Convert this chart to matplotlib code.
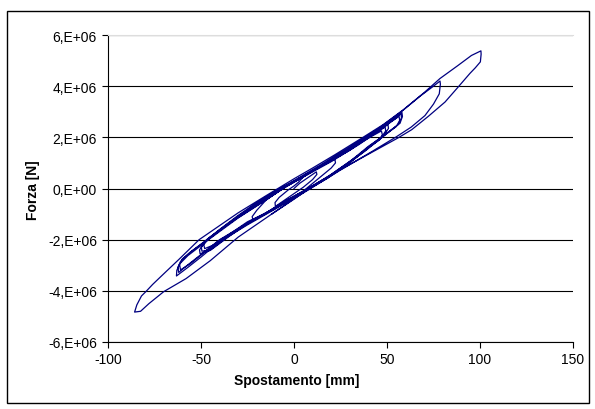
import matplotlib
matplotlib.use("Agg")
import matplotlib.pyplot as plt
from matplotlib.patches import Rectangle
from matplotlib.ticker import FuncFormatter
import numpy as np

plt.rcParams['font.family'] = ['Liberation Sans', 'DejaVu Sans']
plt.rcParams['axes.unicode_minus'] = False

# Spostamento [mm] / Forza [MN], one list per group of cycles
spost_piccoli = [0, 3, 8, 12, 12.3, 10, 5, 0, -5, -10, -10.2, -8, -3, 0, 2.5, 5, 10, 15, 22,
                 22.3, 20, 15, 5, -5, -15, -22, -22.5, -20, -15, -5, 5, 15]
forza_piccoli = [0.0, 0.2, 0.45, 0.65, 0.55, 0.35, 0.05, -0.2, -0.45, -0.7, -0.55, -0.35, -0.05, 0.1, 0.25,
                 0.45, 0.7, 0.9, 1.15, 1.0, 0.8, 0.5, -0.1, -0.5, -0.95, -1.25, -1.1, -0.85, -0.45, 0.05, 0.45, 0.9]

spost_48 = [25, 35, 42, 47,
            47.5, 46, 40, 30, 18, 5, -5, -15, -25, -35, -43, -48,
            -48.5, -46, -40, -30, -20, -10, 0, 10, 20, 30, 40, 49,
            49.3, 47, 40, 30, 18, 5, -5, -15, -25, -35, -45, -49.5,
            -49.8, -47, -40, -30, -20, -10, 0, 10, 20, 30, 40, 50.5,
            50.8, 48.5, 40, 30, 18, 5, -5, -15, -25, -35, -45, -50.5]
forza_48 = [1.3, 1.75, 2.05, 2.25,
            2.1, 1.9, 1.6, 1.0, 0.4, -0.15, -0.55, -0.95, -1.3, -1.8, -2.2, -2.35,
            -2.2, -1.95, -1.6, -1.05, -0.55, -0.1, 0.3, 0.7, 1.1, 1.5, 2.0, 2.4,
            2.25, 2.0, 1.65, 1.05, 0.45, -0.1, -0.5, -0.95, -1.35, -1.85, -2.4, -2.45,
            -2.3, -2.0, -1.62, -1.08, -0.58, -0.12, 0.28, 0.68, 1.08, 1.5, 2.02, 2.5,
            2.35, 2.1, 1.62, 1.02, 0.42, -0.12, -0.52, -0.97, -1.38, -1.88, -2.42, -2.55]

spost_58 = [-50.8, -48, -40, -25, -10, 5, 20, 35, 48, 55, 58,
            58.3, 57, 52, 45, 35, 20, 5, -10, -25, -40, -50, -56, -61,
            -61.5, -60, -55, -45, -35, -20, -5, 10, 25, 40, 50, 56.5,
            56.8, 55, 48, 35, 20, 5, -10, -25, -40, -50, -57, -62,
            -62.4, -61, -56, -45, -35, -20, -5, 10, 25, 40, 50, 57.5,
            57.8, 56, 50, 38, 22, 5, -10, -25, -40, -50, -57, -63.2]
forza_58 = [-2.4, -2.1, -1.65, -0.85, -0.15, 0.45, 1.05, 1.72, 2.38, 2.75, 2.98,
            2.82, 2.55, 2.28, 1.88, 1.3, 0.52, -0.15, -0.78, -1.38, -2.02, -2.6, -2.95, -3.18,
            -2.98, -2.75, -2.45, -1.9, -1.35, -0.65, 0.05, 0.7, 1.35, 2.05, 2.52, 2.82,
            2.66, 2.42, 2.05, 1.32, 0.55, -0.12, -0.75, -1.35, -2.0, -2.58, -2.98, -3.28,
            -3.08, -2.85, -2.5, -1.92, -1.37, -0.67, 0.03, 0.68, 1.33, 2.03, 2.55, 2.92,
            2.76, 2.5, 2.15, 1.45, 0.62, -0.15, -0.8, -1.42, -2.08, -2.68, -3.08, -3.42]

spost_grandi = [-63, -61.5, -57, -45, -30, -15, 0, 15, 30, 45, 58, 68, 75, 78.5,
                78.7, 78.1, 75, 70.4, 63, 55, 42, 25, 10, 0, -15, -30, -45, -58, -70, -78, -82.5, -85.7,
                -84.5, -82, -79.5, -76, -71.7, -62, -51, -40, -30, -15, 0, 10, 22, 36, 48, 58.8, 70, 78.5,
                88, 95.4, 100.5,
                100.6, 100.2, 97.5, 94.6, 88.3, 81.2, 72.2, 63.3, 56, 42, 24, 10, 0, -12]
forza_grandi = [-3.2, -2.95, -2.62, -1.95, -1.15, -0.45, 0.3, 0.95, 1.62, 2.32, 3.02, 3.62, 4.0, 4.2,
                4.08, 3.7, 3.3, 2.85, 2.4, 2.02, 1.45, 0.72, 0.05, -0.4, -1.15, -1.9, -2.82, -3.52, -4.03, -4.5,
                -4.8, -4.83,
                -4.55, -4.2, -4.02, -3.75, -3.45, -2.78, -2.0, -1.45, -0.95, -0.28, 0.38, 0.8, 1.32, 1.95, 2.5,
                3.08, 3.75, 4.3, 4.8, 5.2, 5.38,
                5.25, 4.95, 4.72, 4.5, 3.97, 3.38, 2.82, 2.3, 1.98, 1.42, 0.7, 0.1, -0.42, -1.0]

spost = np.concatenate([spost_piccoli, spost_48, spost_58, spost_grandi])
forza = np.concatenate([forza_piccoli, forza_48, forza_58, forza_grandi]) * 1e6


def etichetta_forza(v, pos):
  if abs(v) < 1:
    return '0,E+00'
  return '%d,E+06' % round(v / 1e6)


fig = plt.figure(figsize=(5.95, 4.10), dpi=100)
ax = fig.add_axes([108 / 595, 1 - 343 / 410, (573 - 108) / 595, (343 - 36) / 410])

ax.plot(spost, forza, color='#000080', lw=0.9)

ax.set_xlim(-100, 150)
ax.set_ylim(-6e6, 6e6)
ax.set_xticks(range(-100, 151, 50))
ax.set_yticks(np.arange(-6e6, 6.1e6, 2e6))
ax.yaxis.set_major_formatter(FuncFormatter(etichetta_forza))
ax.grid(axis='y', color='black', lw=0.8)
ax.set_axisbelow(True)

ax.tick_params(direction='out', length=4, width=0.8, labelsize=10, colors='black')
ax.tick_params(axis='y', pad=4)
ax.tick_params(axis='x', pad=3)
ax.spines['right'].set_visible(False)
ax.spines['top'].set_color('#dddddd')
ax.spines['left'].set_linewidth(0.8)
ax.spines['bottom'].set_linewidth(0.8)

fig.text(297 / 595, 1 - 381 / 410, 'Spostamento [mm]', ha='center', va='center',
         fontsize=10, fontweight='bold')
fig.text(33 / 595, 1 - 190 / 410, 'Forza [N]', ha='center', va='center',
         rotation=90, fontsize=10, fontweight='bold')

fig.patches.append(Rectangle((7 / 595, 1 - 404 / 410), 582 / 595, 392 / 410,
                             transform=fig.transFigure, fill=False, ec='black', lw=1))

fig.savefig('out.png', dpi=100)
